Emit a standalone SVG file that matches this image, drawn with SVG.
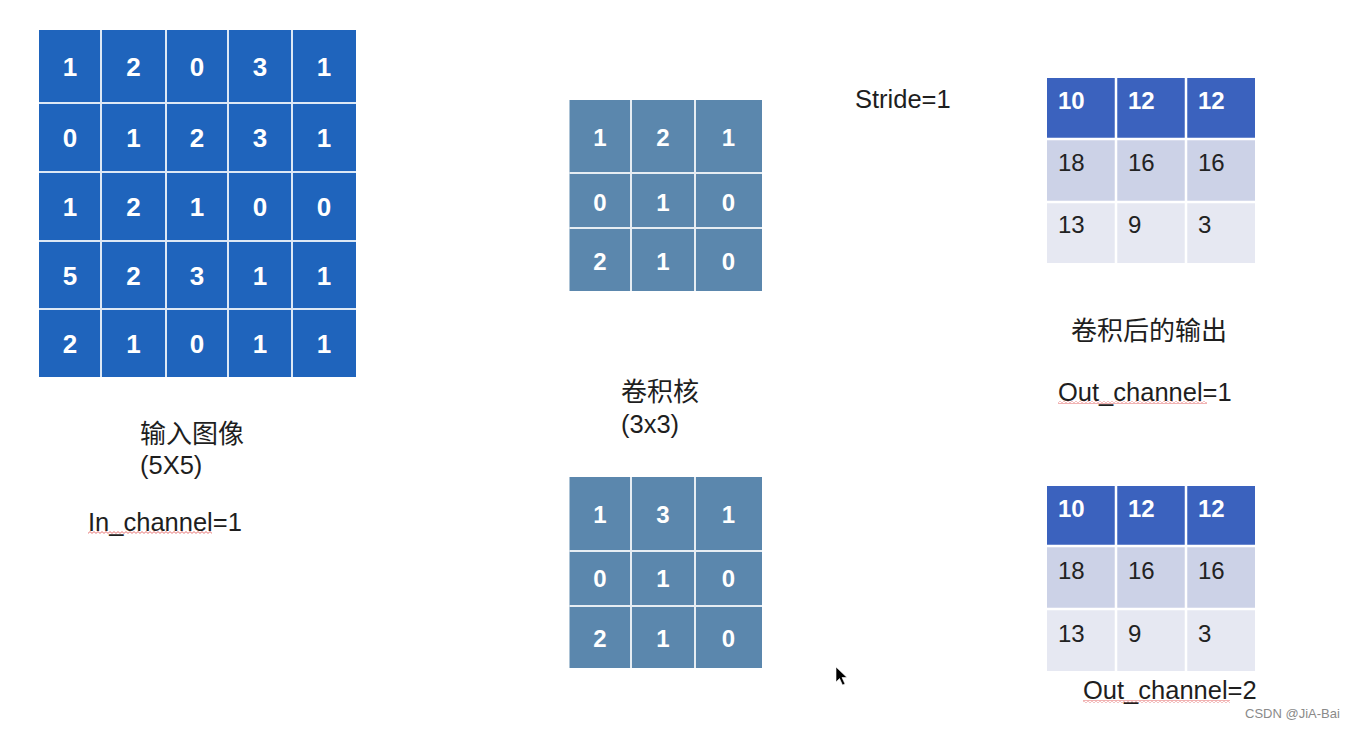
<svg xmlns="http://www.w3.org/2000/svg" width="1345" height="731" viewBox="0 0 1345 731">
<style>
.bg{fill:#ffffff}
.inp{fill:#1f64bc}
.ker{fill:#5b87ad}
.hdr{fill:#3b62be}
.r2{fill:#ccd2e7}
.r3{fill:#e6e8f2}
.gl{stroke:#ffffff;stroke-width:2;stroke-opacity:0.85;fill:none}
.gl2{stroke:#ffffff;stroke-width:2.5;fill:none}
.num{font-family:"Liberation Sans",Arial,sans-serif;font-weight:bold;fill:#ffffff;text-anchor:middle}
.n26{font-size:26px}
.n24{font-size:24px}
.ob{font-family:"Liberation Sans",Arial,sans-serif;font-weight:bold;font-size:24px;fill:#ffffff}
.on{font-family:"Liberation Sans",Arial,sans-serif;font-size:24px;fill:#222222}
.lbl{font-family:"Liberation Sans","Noto Sans CJK SC",sans-serif;font-size:25.5px;fill:#1e1e1e}
.cjk{font-family:"Liberation Sans","Noto Sans CJK SC",sans-serif;font-size:26px;fill:#1e1e1e}
.wm{font-family:"Liberation Sans",Arial,sans-serif;font-size:13px;fill:#8a8a8a}
</style>
<defs>
<pattern id="wave" width="4" height="3" patternUnits="userSpaceOnUse">
<path d="M0,2.4 L2,0.6 L4,2.4" stroke="#e05050" stroke-width="0.8" fill="none"/>
</pattern>
</defs>
<rect class="bg" x="0" y="0" width="1345" height="731"/>

<g id="input-image">
<rect class="inp" x="39" y="30" width="317" height="347"/>
<path class="gl" d="M101,30V377M166,30V377M228,30V377M292,30V377M39,103H356M39,172H356M39,241H356M39,309H356"/>
<g class="num n26">
<text x="70" y="76">1</text><text x="133.5" y="76">2</text><text x="197" y="76">0</text><text x="260" y="76">3</text><text x="324" y="76">1</text>
<text x="70" y="147">0</text><text x="133.5" y="147">1</text><text x="197" y="147">2</text><text x="260" y="147">3</text><text x="324" y="147">1</text>
<text x="70" y="216">1</text><text x="133.5" y="216">2</text><text x="197" y="216">1</text><text x="260" y="216">0</text><text x="324" y="216">0</text>
<text x="70" y="284.5">5</text><text x="133.5" y="284.5">2</text><text x="197" y="284.5">3</text><text x="260" y="284.5">1</text><text x="324" y="284.5">1</text>
<text x="70" y="352.5">2</text><text x="133.5" y="352.5">1</text><text x="197" y="352.5">0</text><text x="260" y="352.5">1</text><text x="324" y="352.5">1</text>
</g>
</g>

<g id="input-label">
<text class="cjk" x="140" y="443">输入图像</text>
<text class="lbl" x="140" y="474">(5X5)</text>
<text class="lbl" x="88" y="531">In_channel=1</text>
<rect x="88" y="531" width="124" height="3" fill="url(#wave)"/>
</g>

<g id="kernel-1">
<rect class="ker" x="569.5" y="100" width="192.5" height="191"/>
<path class="gl" d="M631,100V291M695,100V291M569.5,173H762M569.5,228H762"/>
<g class="num n24">
<text x="600" y="146">1</text><text x="663" y="146">2</text><text x="728.5" y="146">1</text>
<text x="600" y="211">0</text><text x="663" y="211">1</text><text x="728.5" y="211">0</text>
<text x="600" y="270">2</text><text x="663" y="270">1</text><text x="728.5" y="270">0</text>
</g>
</g>

<g id="kernel-label">
<text class="cjk" x="621" y="401">卷积核</text>
<text class="lbl" x="621" y="433">(3x3)</text>
</g>

<g id="kernel-2">
<rect class="ker" x="569.5" y="477" width="192.5" height="191"/>
<path class="gl" d="M631,477V668M695,477V668M569.5,551H762M569.5,606H762"/>
<g class="num n24">
<text x="600" y="523">1</text><text x="663" y="523">3</text><text x="728.5" y="523">1</text>
<text x="600" y="587">0</text><text x="663" y="587">1</text><text x="728.5" y="587">0</text>
<text x="600" y="647">2</text><text x="663" y="647">1</text><text x="728.5" y="647">0</text>
</g>
</g>

<g id="stride-label">
<text class="lbl" x="855" y="108">Stride=1</text>
</g>

<g id="output-1">
<rect class="hdr" x="1047" y="78" width="208" height="61"/>
<rect class="r2" x="1047" y="139" width="208" height="63"/>
<rect class="r3" x="1047" y="202" width="208" height="61"/>
<path class="gl2" d="M1116,78V263M1186,78V263M1047,139H1255M1047,202H1255"/>
<text class="ob" x="1058" y="109">10</text><text class="ob" x="1128" y="109">12</text><text class="ob" x="1198" y="109">12</text>
<text class="on" x="1058" y="171">18</text><text class="on" x="1128" y="171">16</text><text class="on" x="1198" y="171">16</text>
<text class="on" x="1058" y="233">13</text><text class="on" x="1128" y="233">9</text><text class="on" x="1198" y="233">3</text>
</g>

<g id="output-label">
<text class="cjk" x="1071" y="340">卷积后的输出</text>
<text class="lbl" x="1058" y="401">Out_channel=1</text>
<rect x="1058" y="401" width="149" height="3" fill="url(#wave)"/>
</g>

<g id="output-2">
<rect class="hdr" x="1047" y="486" width="208" height="60"/>
<rect class="r2" x="1047" y="546" width="208" height="63"/>
<rect class="r3" x="1047" y="609" width="208" height="62"/>
<path class="gl2" d="M1116,486V671M1186,486V671M1047,546H1255M1047,609H1255"/>
<text class="ob" x="1058" y="517">10</text><text class="ob" x="1128" y="517">12</text><text class="ob" x="1198" y="517">12</text>
<text class="on" x="1058" y="579">18</text><text class="on" x="1128" y="579">16</text><text class="on" x="1198" y="579">16</text>
<text class="on" x="1058" y="642">13</text><text class="on" x="1128" y="642">9</text><text class="on" x="1198" y="642">3</text>
</g>

<g id="output-2-label">
<text class="lbl" x="1083" y="699">Out_channel=2</text>
<rect x="1083" y="700" width="147" height="3" fill="url(#wave)"/>
</g>

<g id="connectors"/>

<g id="cursor">
<path d="M836,667 L836,682 L839.5,678.5 L842.5,685 L845,684 L842,677.5 L847,677.5 Z" fill="#000000" stroke="#ffffff" stroke-width="0.6"/>
</g>

<g id="watermark">
<text class="wm" x="1245" y="718">CSDN @JiA-Bai</text>
</g>
</svg>
